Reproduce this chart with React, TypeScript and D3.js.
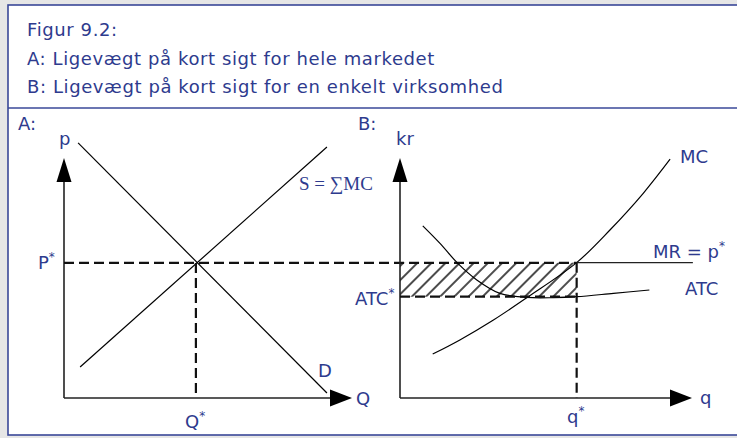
import React from "react";
import * as d3 from "d3";

const W = 737;
const H = 438;

// Header texts
const headerLines = [
  "Figur 9.2:",
  "A: Ligevægt på kort sigt for hele markedet",
  "B: Ligevægt på kort sigt for en enkelt virksomhed",
];

// Panel A (market) in 0..100 units
const demandPts: [number, number][] = [
  [4.9, 106.3],
  [91.3, 2.1],
];
const supplyPts: [number, number][] = [
  [5.6, 12.9],
  [91.3, 104.6],
];
const eqA = { q: 45.8, p: 56.3 };

// Panel B (firm) in 0..100 units
const mcPts: [number, number][] = [
  [11.2, 18.3],
  [20.5, 24.2],
  [32.0, 32.5],
  [43.9, 42.2],
  [60.5, 56.4],
  [71.9, 70.0],
  [83.3, 85.3],
  [92.5, 99.5],
];
const atcPts: [number, number][] = [
  [7.8, 71.7],
  [13.7, 64.4],
  [19.8, 56.1],
  [26.3, 49.2],
  [34.2, 43.6],
  [43.4, 41.9],
  [52.5, 41.8],
  [60.5, 42.2],
  [73.1, 43.6],
  [85.4, 45.0],
];
const eqB = { q: 60.5, p: 56.4, atc: 42.2, mrEnd: 100.3 };

const TEXT = "#2E3B8E";
const BORDER = "#3A4898";
const FONT = "DejaVu Sans, Verdana, sans-serif";

export default function App() {
  const xA = d3.scaleLinear().domain([0, 100]).range([64, 352]);
  const yA = d3.scaleLinear().domain([0, 100]).range([398, 158]);
  const xB = d3.scaleLinear().domain([0, 100]).range([400, 692]);
  const yB = yA;

  const lineA = d3
    .line<[number, number]>()
    .x((d) => xA(d[0]))
    .y((d) => yA(d[1]));
  const curveB = d3
    .line<[number, number]>()
    .x((d) => xB(d[0]))
    .y((d) => yB(d[1]))
    .curve(d3.curveCatmullRom.alpha(0.5));

  const dash = { stroke: "#111", strokeWidth: 2.2, strokeDasharray: "10,5", fill: "none" };
  const axisStroke = { stroke: "#222", strokeWidth: 1.6 };

  const axes = (x: d3.ScaleLinear<number, number>, y: d3.ScaleLinear<number, number>) => {
    const x0 = x(0), y0 = y(0), xt = x(100), yt = y(100);
    return (
      <g>
        <line x1={x0} y1={y0} x2={x0} y2={yt + 20} {...axisStroke} />
        <line x1={x0} y1={y0} x2={xt - 20} y2={y0} {...axisStroke} />
        <polygon points={`${x0},${yt} ${x0 - 7.5},${yt + 24} ${x0 + 7.5},${yt + 24}`} fill="#000" />
        <polygon points={`${xt},${y0} ${xt - 22},${y0 - 8.5} ${xt - 22},${y0 + 8.5}`} fill="#000" />
      </g>
    );
  };

  const star = (s = 12) => (
    <tspan fontSize={s} dy={-8}>
      *
    </tspan>
  );

  return (
    <svg
      width={W}
      height={H}
      style={{ position: "absolute", left: 0, top: 0 }}
      fontFamily={FONT}
    >
      <defs>
        <pattern
          id="hatch"
          patternUnits="userSpaceOnUse"
          width={10}
          height={10}
          patternTransform="rotate(45)"
        >
          <line x1={1} y1={-1} x2={1} y2={11} stroke="#000" strokeWidth={1.4} />
        </pattern>
      </defs>
      <rect x={0} y={0} width={W} height={H} fill="#E6E6E6" />
      <rect x={8} y={5} width={W} height={430} fill="#fff" stroke={BORDER} strokeWidth={1.6} />
      <line x1={8} y1={108} x2={W} y2={108} stroke={BORDER} strokeWidth={1.6} />

      {headerLines.map((t, i) => (
        <text key={i} x={27} y={36 + i * 28.5} fontSize={18} fill={TEXT} letterSpacing={0.6}>
          {t}
        </text>
      ))}

      {/* Panel labels */}
      <text x={18} y={130} fontSize={18} fill={TEXT}>A:</text>
      <text x={358} y={130} fontSize={18} fill={TEXT}>B:</text>

      {/* Hatched area */}
      <rect
        x={xB(0)}
        y={yB(eqB.p)}
        width={xB(eqB.q) - xB(0)}
        height={yB(eqB.atc) - yB(eqB.p)}
        fill="url(#hatch)"
      />

      {/* Panel A */}
      {axes(xA, yA)}
      <path d={lineA(demandPts) || ""} stroke="#000" strokeWidth={1.2} fill="none" />
      <path d={lineA(supplyPts) || ""} stroke="#000" strokeWidth={1.2} fill="none" />
      <line x1={xA(eqA.q)} y1={yA(eqA.p)} x2={xA(eqA.q)} y2={yA(0)} {...dash} />

      {/* P* dashed line spanning into panel B */}
      <line x1={xA(0)} y1={yA(eqA.p)} x2={xB(eqB.q)} y2={yA(eqA.p)} {...dash} />

      {/* Panel B */}
      {axes(xB, yB)}
      <path d={curveB(mcPts) || ""} stroke="#000" strokeWidth={1.2} fill="none" />
      <path d={curveB(atcPts) || ""} stroke="#000" strokeWidth={1.2} fill="none" />
      <line x1={xB(eqB.q)} y1={yB(eqB.p)} x2={xB(eqB.mrEnd)} y2={yB(eqB.p)} stroke="#222" strokeWidth={1.4} />
      <line x1={xB(0)} y1={yB(eqB.atc)} x2={xB(eqB.q)} y2={yB(eqB.atc)} {...dash} />
      <line x1={xB(eqB.q)} y1={yB(eqB.p)} x2={xB(eqB.q)} y2={yB(0)} {...dash} />

      {/* Panel A labels */}
      <text x={59} y={145} fontSize={18} fill={TEXT}>p</text>
      <text x={38} y={269} fontSize={18} fill={TEXT}>P{star()}</text>
      <text x={299} y={190} fontSize={19} fill={TEXT} fontFamily="Liberation Serif, Times New Roman, serif">
        S = ∑MC
      </text>
      <text x={318} y={377} fontSize={18} fill={TEXT}>D</text>
      <text x={356} y={405} fontSize={18} fill={TEXT}>Q</text>
      <text x={185} y={428} fontSize={18} fill={TEXT}>Q{star()}</text>

      {/* Panel B labels */}
      <text x={396} y={145} fontSize={18} fill={TEXT}>kr</text>
      <text x={680} y={163} fontSize={18} fill={TEXT}>MC</text>
      <text x={653} y={258} fontSize={18} fill={TEXT}>MR = p{star()}</text>
      <text x={685} y={295} fontSize={18} fill={TEXT}>ATC</text>
      <text x={355} y={305} fontSize={18} fill={TEXT}>ATC{star()}</text>
      <text x={700} y={404} fontSize={18} fill={TEXT}>q</text>
      <text x={567} y={423} fontSize={18} fill={TEXT}>q{star()}</text>
    </svg>
  );
}
